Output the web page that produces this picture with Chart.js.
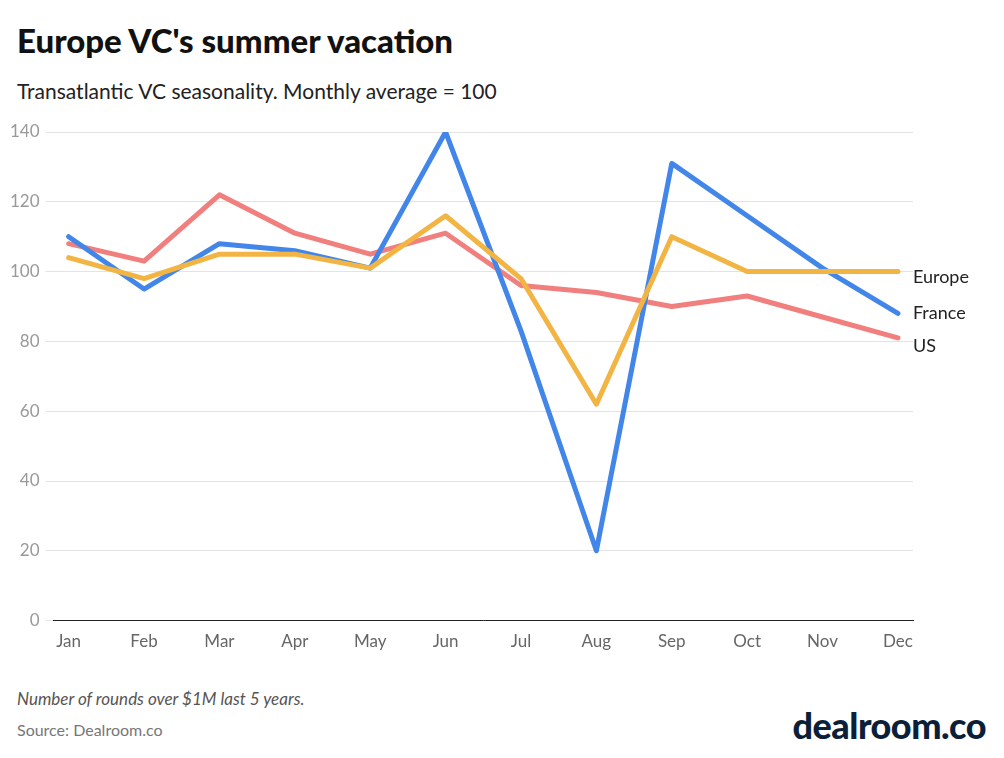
<!DOCTYPE html>
<html><head><meta charset="utf-8">
<script src="https://cdn.jsdelivr.net/npm/chart.js@4"></script>
<style>
body{margin:0;width:1004px;height:758px;background:#fff;font-family:Lato,"Noto Sans",sans-serif;position:relative;overflow:hidden}
#t{position:absolute;left:17px;top:20px;font-size:33px;font-weight:900;color:#111}
#s{position:absolute;left:17px;top:78px;font-size:21px;color:#222}
#n{position:absolute;left:17px;top:688px;font-size:17px;font-style:italic;color:#555}
#src{position:absolute;left:17px;top:720px;font-size:16px;color:#777}
#logo{position:absolute;right:18px;top:703px;font-size:36px;font-weight:900;color:#0b1f3a;letter-spacing:-0.5px}
#w{position:absolute;left:0;top:110px;width:990px;height:545px}
</style></head><body>
<div id="t">Europe VC's summer vacation</div>
<div id="s">Transatlantic VC seasonality. Monthly average = 100</div>
<div id="w"><canvas id="c"></canvas></div>
<div id="n">Number of rounds over $1M last 5 years.</div>
<div id="src">Source: Dealroom.co</div>
<div id="logo">dealroom.co</div>
<script>
const months=["Jan","Feb","Mar","Apr","May","Jun","Jul","Aug","Sep","Oct","Nov","Dec"];
const europe=[104,98,105,105,101,116,98,62,110,100,100,100];
const france=[110,95,108,106,101,140,83,20,131,116,101,88];
const us=[108,103,122,111,105,111,96,94,90,93,87,81];
const yTicks=[0,20,40,60,80,100,120,140];
const pts=a=>a.map((v,i)=>({x:i,y:v}));
const endLabels={id:'endLabels',afterDatasetsDraw(ch){const c=ch.ctx;c.save();c.font='18px Lato, sans-serif';c.fillStyle='#222';c.textBaseline='middle';
const offs=[6,0,8];ch.data.datasets.forEach((d,i)=>{const m=ch.getDatasetMeta(i);const p=m.data[m.data.length-1];c.fillText(d.label,p.x+15,p.y+offs[i]);});c.restore();}};
new Chart(document.getElementById('c'),{type:'line',
data:{datasets:[
{label:'Europe',data:pts(europe),borderColor:'#f2b544'},
{label:'France',data:pts(france),borderColor:'#4286ea'},
{label:'US',data:pts(us),borderColor:'#f07f7d'}]},
options:{responsive:true,maintainAspectRatio:false,animation:false,
layout:{padding:{right:77,top:22,left:4}},
elements:{line:{borderWidth:5,tension:0,borderJoinStyle:'round',borderCapStyle:'round'},point:{radius:0}},
plugins:{legend:{display:false},tooltip:{enabled:false}},
scales:{
x:{type:'linear',min:-0.2,max:11.2,grid:{display:false},border:{color:'#222',width:1},
ticks:{stepSize:1,autoSkip:false,color:'#666',font:{size:17,family:'Lato'},callback:v=>months[v]??''},
afterBuildTicks:a=>{a.ticks=months.map((m,i)=>({value:i}));}},
y:{min:0,max:140,border:{display:false},grid:{color:'#e3e3e3'},
ticks:{color:'#999',font:{size:17,family:'Lato'},padding:6},
afterBuildTicks:a=>{a.ticks=yTicks.map(v=>({value:v}));}}}},
plugins:[endLabels]});
</script></body></html>
